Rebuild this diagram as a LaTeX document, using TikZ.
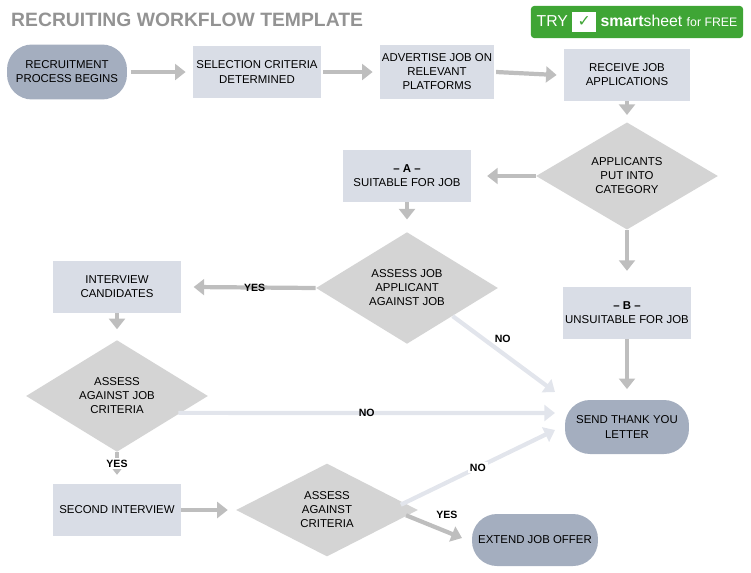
\documentclass[tikz,border=0pt]{standalone}
\usepackage{fontspec}
\setmainfont{Liberation Sans}
\newfontfamily\symfont{DejaVu Sans}
\usetikzlibrary{shapes.geometric,arrows.meta,positioning}
\definecolor{slate}{HTML}{A4AEBF}
\definecolor{pale}{HTML}{D9DDE6}
\definecolor{dia}{HTML}{D4D4D4}
\definecolor{arr}{HTML}{BEBEBE}
\definecolor{noarr}{HTML}{E2E5EC}
\definecolor{logo}{HTML}{3FA535}
\tikzset{
  box/.style={rectangle, fill=pale, minimum width=2.56cm, minimum height=1.04cm, inner sep=1pt, align=center, font=\fontsize{6.5}{8}\selectfont},
  term/.style={box, fill=slate, rounded corners=0.5cm},
  test/.style={diamond, fill=dia, minimum width=3.64cm, minimum height=1.86cm, inner sep=0pt, align=center, font=\fontsize{6.5}{8}\selectfont},
  flow/.style={arr, line width=2.4pt, -{Triangle[width=9pt,length=6pt]}},
  nope/.style={flow, noarr},
  tag/.style={font=\bfseries\fontsize{6}{7}\selectfont, text=black, fill=none}
}
\begin{document}
\begin{tikzpicture}[x=0.02cm,y=-0.02cm]
    \useasboundingbox (0,0) rectangle (751,572);

    % title and logo
    \node[anchor=west, text=gray!85, font=\bfseries\fontsize{11}{13}\selectfont] (title) at (5,20) {RECRUITING WORKFLOW TEMPLATE};
    \node[fill=logo, rounded corners=2pt, minimum width=4.16cm, minimum height=0.56cm, text=white, font=\fontsize{9}{10}\selectfont] (logo) at (637,22) {TRY \colorbox{white}{\textcolor{logo}{\symfont ✓}} \textbf{smart}sheet {\fontsize{7}{8}\selectfont for FREE}};

    % top row
    \node[term, minimum width=2.4cm, minimum height=1.1cm] (start) at (67,72) {RECRUITMENT\\PROCESS BEGINS};
    \node[box] (crit) at (257,72) {SELECTION CRITERIA\\DETERMINED};
    \node[box, minimum width=2.28cm, minimum height=1.1cm] (advert) at (437,72) {ADVERTISE JOB ON\\RELEVANT\\PLATFORMS};
    \node[box, minimum width=2.52cm] (recv) at (627,75) {RECEIVE JOB\\APPLICATIONS};

    % sorting
    \node[test] (sort) at (627,176) {APPLICANTS\\PUT INTO\\CATEGORY};
    \node[box] (suit) at (407,176) {\textbf{– A –}\\SUITABLE FOR JOB};
    \node[box, minimum width=2.52cm] (unsuit) at (627,313) {\textbf{– B –}\\UNSUITABLE FOR JOB};
    \node[test] (check) at (407,288) {ASSESS JOB\\APPLICANT\\AGAINST JOB};

    % interviews
    \node[box] (iview) at (117,287) {INTERVIEW\\CANDIDATES};
    \node[test] (crit2) at (117,396) {ASSESS\\AGAINST JOB\\CRITERIA};
    \node[box] (second) at (117,510) {SECOND INTERVIEW};
    \node[test] (crit3) at (327,510) {ASSESS\\AGAINST\\CRITERIA};

    % outcomes
    \node[term, minimum width=2.48cm, minimum height=1.08cm] (thanks) at (627,427) {SEND THANK YOU\\LETTER};
    \node[term, minimum width=2.52cm] (offer) at (535,540) {EXTEND JOB OFFER};
    \coordinate (in1) at (555,392);
    \coordinate (in2) at (555,413);
    \coordinate (in3) at (555,430);
    \coordinate (in4) at (462,538);

    % connectors
    \draw[flow] ([xshift=2pt]start.east) -- ([xshift=-4pt]crit.west);
    \draw[flow] ([xshift=1pt]crit.east) -- ([xshift=-4pt]advert.west);
    \draw[flow] ([xshift=1pt]advert.east) -- ([xshift=-4pt]recv.west);
    \draw[flow] (recv.south) -- ([yshift=4pt]sort.north);
    \draw[flow] (sort.west) -- ([xshift=9pt]suit.east);
    \draw[flow] (sort.south) -- ([yshift=9pt]unsuit.north);
    \draw[flow] (suit.south) -- ([yshift=7pt]check.north);
    \draw[flow] (check.west) -- node[tag] {YES} ([xshift=7pt]iview.east);
    \draw[nope] (check.south east) -- node[tag, pos=0.3, right=2pt] {NO} (in1);
    \draw[flow] (iview.south) -- ([yshift=6pt]crit2.north);
    \draw[nope] ([xshift=-17pt,yshift=-9.6pt]crit2.east) -- node[tag] {NO} (in2);
    \draw[flow] (crit2.south) -- node[tag, fill=white, inner sep=1pt] {YES} ([yshift=5pt]second.north);
    \draw[flow] (second.east) -- ([xshift=-4.5pt]crit3.west);
    \draw[nope] ([xshift=-10pt,yshift=3pt]crit3.east) -- node[tag, fill=white, inner sep=1pt] {NO} (in3);
    \draw[flow] ([xshift=-7pt,yshift=-3pt]crit3.east) -- node[tag, above right=-1pt and 0pt, pos=0.4] {YES} (in4);
    \draw[flow] (unsuit.south) -- ([yshift=6pt]thanks.north);

\end{tikzpicture}
\end{document}
